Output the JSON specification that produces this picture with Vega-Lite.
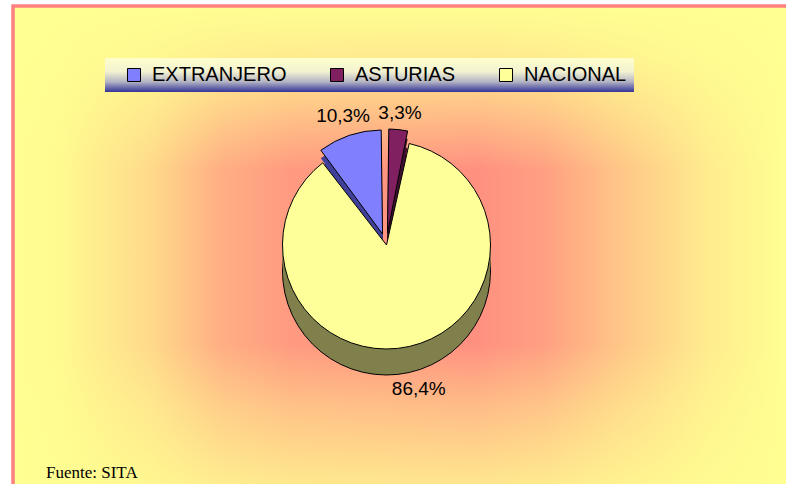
{
  "$schema": "https://vega.github.io/schema/vega-lite/v6.json",
  "width": 773,
  "height": 478,
  "autosize": {"type": "none"},
  "padding": {"left": 13, "top": 6, "right": 0, "bottom": 0},
  "background": "white",
  "config": {
    "view": {"stroke": null},
    "font": "Liberation Sans",
    "locale": {"number": {"decimal": ",", "thousands": ".", "grouping": [3], "currency": ["", " €"]}}
  },
  "title": {"text": "Fuente: SITA", "orient": "bottom", "anchor": "start", "frame": "group", "offset": -26, "dx": 33, "font": "Liberation Serif", "fontSize": 17, "fontWeight": "normal", "color": "black"},
  "data": {"values": [
    {"origen": "ASTURIAS", "share": 0.033, "orden": 1},
    {"origen": "NACIONAL", "share": 0.864, "orden": 2},
    {"origen": "EXTRANJERO", "share": 0.103, "orden": 3}
  ]},
  "layer": [
    {
      "data": {"values": [{"fondo": 1}]},
      "mark": {"type": "rect", "fill": {"gradient": "linear", "x1": 0, "y1": 0, "x2": 1, "y2": 0, "stops": [
        {"offset": 0, "color": "#FFFF92"},
        {"offset": 0.06, "color": "#FFFA90"},
        {"offset": 0.18, "color": "#FFD98A"},
        {"offset": 0.27, "color": "#FFAE84"},
        {"offset": 0.36, "color": "#FF9A80"},
        {"offset": 0.6, "color": "#FF9080"},
        {"offset": 0.69, "color": "#FFA082"},
        {"offset": 0.78, "color": "#FFC487"},
        {"offset": 0.9, "color": "#FFEC8E"},
        {"offset": 1, "color": "#FFFF92"}
      ]}},
      "encoding": {"x": {"value": 0}, "x2": {"value": "width"}, "y": {"value": 0}, "y2": {"value": "height"}}
    },
    {
      "data": {"values": [{"fondo": 1}]},
      "mark": {"type": "rect", "stroke": "#FF8080", "strokeWidth": 3.5, "x2Offset": 5, "y2Offset": 5, "fill": {"gradient": "linear", "x1": 0, "y1": 0, "x2": 0, "y2": 1, "stops": [
        {"offset": 0, "color": "rgba(255,255,146,1)"},
        {"offset": 0.11, "color": "rgba(255,255,146,0.8)"},
        {"offset": 0.24, "color": "rgba(255,255,146,0.35)"},
        {"offset": 0.34, "color": "rgba(255,255,146,0)"},
        {"offset": 0.7, "color": "rgba(255,255,146,0)"},
        {"offset": 0.83, "color": "rgba(255,255,146,0.4)"},
        {"offset": 1, "color": "rgba(255,255,146,0.8)"}
      ]}},
      "encoding": {"x": {"value": 0}, "x2": {"value": "width"}, "y": {"value": 0}, "y2": {"value": "height"}}
    },
    {
      "mark": {"type": "arc", "outerRadius": 104, "padAngle": 0.025, "fill": "#40409A", "stroke": "black", "strokeWidth": 1, "xOffset": -17, "yOffset": 15},
      "encoding": {
        "theta": {"field": "share", "type": "quantitative", "stack": true},
        "order": {"field": "orden", "type": "quantitative"},
        "opacity": {"condition": {"test": "datum.origen === 'EXTRANJERO'", "value": 1}, "value": 0}
      }
    },
    {
      "mark": {"type": "arc", "outerRadius": 104, "padAngle": 0.025, "fill": "#40409A", "xOffset": -17, "yOffset": 6},
      "encoding": {
        "theta": {"field": "share", "type": "quantitative", "stack": true},
        "order": {"field": "orden", "type": "quantitative"},
        "opacity": {"condition": {"test": "datum.origen === 'EXTRANJERO'", "value": 1}, "value": 0}
      }
    },
    {
      "mark": {"type": "arc", "outerRadius": 104, "padAngle": 0.025, "fill": "#40409A", "xOffset": -17, "yOffset": -3},
      "encoding": {
        "theta": {"field": "share", "type": "quantitative", "stack": true},
        "order": {"field": "orden", "type": "quantitative"},
        "opacity": {"condition": {"test": "datum.origen === 'EXTRANJERO'", "value": 1}, "value": 0}
      }
    },
    {
      "mark": {"type": "arc", "outerRadius": 104, "padAngle": 0.025, "stroke": "black", "strokeWidth": 1, "xOffset": -17, "yOffset": -11},
      "encoding": {
        "theta": {"field": "share", "type": "quantitative", "stack": true},
        "order": {"field": "orden", "type": "quantitative"},
        "color": {"field": "origen", "type": "nominal",
          "scale": {"domain": ["EXTRANJERO", "ASTURIAS", "NACIONAL"], "range": ["#8080FF", "#802060", "#FFFF99"]},
          "legend": {"title": " ", "orient": "none", "legendX": 92, "legendY": 52, "direction": "horizontal", "titleOrient": "left", "titlePadding": 12, "titleFontSize": 20, "titleFont": "Liberation Sans", "padding": 7, "symbolType": "square", "symbolSize": 169, "symbolStrokeColor": "black", "symbolStrokeWidth": 1, "symbolOpacity": 1, "labelFont": "Liberation Sans", "labelFontSize": 20, "labelColor": "black", "labelOffset": 8, "labelLimit": 400, "columnPadding": 40,
            "fillColor": {"value": {"gradient": "linear", "x1": 0, "y1": 0, "x2": 0, "y2": 1, "stops": [
              {"offset": 0, "color": "#FFFFCC"},
              {"offset": 0.4, "color": "#F2F2D2"},
              {"offset": 0.7, "color": "#B4B4C4"},
              {"offset": 1, "color": "#333399"}
            ]}}}
        },
        "opacity": {"condition": {"test": "datum.origen === 'EXTRANJERO'", "value": 1}, "value": 0}
      }
    },
    {
      "mark": {"type": "arc", "outerRadius": 104, "padAngle": 0.025, "fill": "#40102F", "stroke": "black", "strokeWidth": 1, "xOffset": -12, "yOffset": 14},
      "encoding": {
        "theta": {"field": "share", "type": "quantitative", "stack": true},
        "order": {"field": "orden", "type": "quantitative"},
        "opacity": {"condition": {"test": "datum.origen === 'ASTURIAS'", "value": 1}, "value": 0}
      }
    },
    {
      "mark": {"type": "arc", "outerRadius": 104, "padAngle": 0.025, "fill": "#40102F", "xOffset": -12, "yOffset": 5},
      "encoding": {
        "theta": {"field": "share", "type": "quantitative", "stack": true},
        "order": {"field": "orden", "type": "quantitative"},
        "opacity": {"condition": {"test": "datum.origen === 'ASTURIAS'", "value": 1}, "value": 0}
      }
    },
    {
      "mark": {"type": "arc", "outerRadius": 104, "padAngle": 0.025, "fill": "#40102F", "xOffset": -12, "yOffset": -4},
      "encoding": {
        "theta": {"field": "share", "type": "quantitative", "stack": true},
        "order": {"field": "orden", "type": "quantitative"},
        "opacity": {"condition": {"test": "datum.origen === 'ASTURIAS'", "value": 1}, "value": 0}
      }
    },
    {
      "mark": {"type": "arc", "outerRadius": 104, "padAngle": 0.025, "stroke": "black", "strokeWidth": 1, "xOffset": -12, "yOffset": -12},
      "encoding": {
        "theta": {"field": "share", "type": "quantitative", "stack": true},
        "order": {"field": "orden", "type": "quantitative"},
        "color": {"field": "origen", "type": "nominal"},
        "opacity": {"condition": {"test": "datum.origen === 'ASTURIAS'", "value": 1}, "value": 0}
      }
    },
    {
      "mark": {"type": "arc", "outerRadius": 104, "padAngle": 0.025, "fill": "#80804D", "stroke": "black", "strokeWidth": 1, "xOffset": -13, "yOffset": 26},
      "encoding": {
        "theta": {"field": "share", "type": "quantitative", "stack": true},
        "order": {"field": "orden", "type": "quantitative"},
        "opacity": {"condition": {"test": "datum.origen === 'NACIONAL'", "value": 1}, "value": 0}
      }
    },
    {
      "mark": {"type": "arc", "outerRadius": 104, "padAngle": 0.025, "fill": "#80804D", "xOffset": -13, "yOffset": 17},
      "encoding": {
        "theta": {"field": "share", "type": "quantitative", "stack": true},
        "order": {"field": "orden", "type": "quantitative"},
        "opacity": {"condition": {"test": "datum.origen === 'NACIONAL'", "value": 1}, "value": 0}
      }
    },
    {
      "mark": {"type": "arc", "outerRadius": 104, "padAngle": 0.025, "fill": "#80804D", "xOffset": -13, "yOffset": 8},
      "encoding": {
        "theta": {"field": "share", "type": "quantitative", "stack": true},
        "order": {"field": "orden", "type": "quantitative"},
        "opacity": {"condition": {"test": "datum.origen === 'NACIONAL'", "value": 1}, "value": 0}
      }
    },
    {
      "mark": {"type": "arc", "outerRadius": 104, "padAngle": 0.025, "stroke": "black", "strokeWidth": 1, "xOffset": -13, "yOffset": 0},
      "encoding": {
        "theta": {"field": "share", "type": "quantitative", "stack": true},
        "order": {"field": "orden", "type": "quantitative"},
        "color": {"field": "origen", "type": "nominal"},
        "opacity": {"condition": {"test": "datum.origen === 'NACIONAL'", "value": 1}, "value": 0}
      }
    },
    {
      "mark": {"type": "text", "radius": 124, "font": "Liberation Sans", "fontSize": 19, "fill": "black", "xOffset": -17, "yOffset": -11},
      "encoding": {
        "theta": {"field": "share", "type": "quantitative", "stack": true},
        "order": {"field": "orden", "type": "quantitative"},
        "text": {"field": "share", "type": "quantitative", "format": ".1%"},
        "opacity": {"condition": {"test": "datum.origen === 'EXTRANJERO'", "value": 1}, "value": 0}
      }
    },
    {
      "mark": {"type": "text", "radius": 121, "font": "Liberation Sans", "fontSize": 19, "fill": "black", "xOffset": -12, "yOffset": -12},
      "encoding": {
        "theta": {"field": "share", "type": "quantitative", "stack": true},
        "order": {"field": "orden", "type": "quantitative"},
        "text": {"field": "share", "type": "quantitative", "format": ".1%"},
        "opacity": {"condition": {"test": "datum.origen === 'ASTURIAS'", "value": 1}, "value": 0}
      }
    },
    {
      "mark": {"type": "text", "radius": 148, "font": "Liberation Sans", "fontSize": 19, "fill": "black", "xOffset": -13, "yOffset": 0},
      "encoding": {
        "theta": {"field": "share", "type": "quantitative", "stack": true},
        "order": {"field": "orden", "type": "quantitative"},
        "text": {"field": "share", "type": "quantitative", "format": ".1%"},
        "opacity": {"condition": {"test": "datum.origen === 'NACIONAL'", "value": 1}, "value": 0}
      }
    }
  ]
}
